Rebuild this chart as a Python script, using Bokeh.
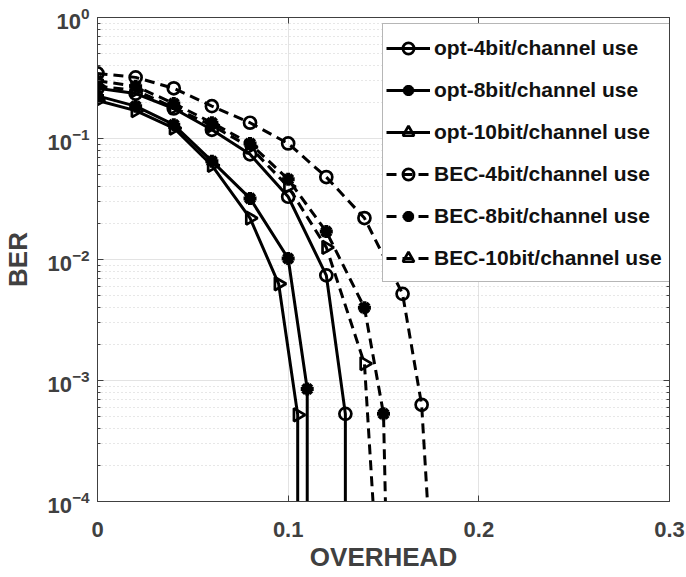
import math
from bokeh.plotting import figure
from bokeh.models import FixedTicker, LogAxis, LinearAxis, Legend, LegendItem, CustomJSTickFormatter
from bokeh.embed import file_html
from bokeh.resources import INLINE

# ---- data ----
x_opt4 = [0.0, 0.02, 0.04, 0.06, 0.08, 0.10, 0.12, 0.13, 0.13]
ber_opt4 = [0.26, 0.235, 0.177, 0.118, 0.074, 0.033, 0.0074, 5.3e-4, 1e-6]

x_opt8 = [0.0, 0.02, 0.04, 0.06, 0.08, 0.10, 0.11, 0.11]
ber_opt8 = [0.225, 0.185, 0.13, 0.065, 0.032, 0.0102, 8.5e-4, 1e-6]

x_opt10 = [0.0, 0.02, 0.04, 0.06, 0.08, 0.095, 0.105, 0.105]
ber_opt10 = [0.206, 0.17, 0.122, 0.060, 0.022, 0.0063, 5.2e-4, 1e-6]

x_bec4 = [0.0, 0.02, 0.04, 0.06, 0.08, 0.10, 0.12, 0.14, 0.16, 0.17, 0.18]
ber_bec4 = [0.345, 0.32, 0.26, 0.185, 0.135, 0.091, 0.048, 0.022, 0.0052, 6.3e-4, 1.5e-6]

x_bec8 = [0.0, 0.02, 0.04, 0.06, 0.08, 0.10, 0.12, 0.14, 0.15, 0.16]
ber_bec8 = [0.30, 0.27, 0.195, 0.135, 0.091, 0.046, 0.017, 0.0040, 5.3e-4, 3e-11]

x_bec10 = [0.0, 0.02, 0.04, 0.06, 0.08, 0.10, 0.12, 0.14, 0.15]
ber_bec10 = [0.27, 0.25, 0.18, 0.128, 0.085, 0.040, 0.0126, 0.00138, 4e-6]

labels = ["opt-4bit/channel use", "opt-8bit/channel use", "opt-10bit/channel use",
          "BEC-4bit/channel use", "BEC-8bit/channel use", "BEC-10bit/channel use"]

x_ticks = [0.0, 0.1, 0.2, 0.3]
y_ticks = [1e-4, 1e-3, 1e-2, 1e-1, 1.0]
y_minor = [m * d for d in [1e-4, 1e-3, 1e-2, 1e-1] for m in range(2, 10)]

FONT = "Liberation Sans"
AXC = "#404040"

p = figure(width=686, height=577, x_range=(0, 0.3), y_range=(1e-4, 1),
           y_axis_type="log", output_backend="svg", toolbar_location=None,
           min_border_left=97, min_border_top=17, min_border_right=17, min_border_bottom=76)
p.background_fill_color = "white"
p.outline_line_color = AXC

xt = FixedTicker(ticks=x_ticks)
yt = FixedTicker(ticks=y_ticks, minor_ticks=y_minor)

xa = p.xaxis[0]
xa.ticker = xt
xa.major_label_overrides = {0: "0", 0.1: "0.1", 0.2: "0.2", 0.3: "0.3"}
ya = p.yaxis[0]
ya.ticker = yt

for ax in (xa, ya):
    ax.axis_line_color = AXC
    ax.major_tick_line_color = AXC
    ax.minor_tick_line_color = AXC
    ax.major_tick_in = 6
    ax.major_tick_out = 0
    ax.minor_tick_in = 3
    ax.minor_tick_out = 0
    ax.major_label_text_font = FONT
    ax.major_label_text_font_style = "bold"
    ax.major_label_text_font_size = "22px"
    ax.major_label_text_color = AXC
    ax.axis_label_text_font = FONT
    ax.axis_label_text_font_style = "bold"
    ax.axis_label_text_font_size = "26px"
    ax.axis_label_text_color = AXC
xa.minor_tick_in = 0
xa.axis_label = "OVERHEAD"
ya.axis_label = "BER"
xa.major_label_standoff = 20
xa.axis_label_standoff = 2
ya.major_label_standoff = 8
ya.axis_label_standoff = 11

top = LinearAxis(ticker=xt, formatter=CustomJSTickFormatter(code="return ''"), major_label_standoff=0,
                 major_tick_in=6, major_tick_out=0, minor_tick_in=0, minor_tick_out=0,
                 axis_line_color=AXC, major_tick_line_color=AXC)
p.add_layout(top, "above")
right = LogAxis(ticker=yt, formatter=CustomJSTickFormatter(code="return ''"), major_label_standoff=0,
                major_tick_in=6, major_tick_out=0, minor_tick_in=3, minor_tick_out=0,
                axis_line_color=AXC, major_tick_line_color=AXC, minor_tick_line_color=AXC)
p.add_layout(right, "right")

p.xgrid.ticker = xt
p.ygrid.ticker = yt
p.xgrid.grid_line_color = "#e3e3e3"
p.ygrid.grid_line_color = "#e3e3e3"
p.ygrid.minor_grid_line_color = "#cfcfcf"
p.ygrid.minor_grid_line_dash = "1 3"

series = [
    (x_opt4, ber_opt4, "solid", "circle"),
    (x_opt8, ber_opt8, "solid", "asterisk"),
    (x_opt10, ber_opt10, "solid", "triangle"),
    (x_bec4, ber_bec4, "10 6", "circle"),
    (x_bec8, ber_bec8, "10 6", "asterisk"),
    (x_bec10, ber_bec10, "10 6", "triangle"),
]

items = []
for (xs, ys, dash, mk), lab in zip(series, labels):
    r = p.line(xs, ys, line_color="black", line_width=3, line_dash=dash)
    kw = dict(marker=mk, line_color="black", fill_color=None)
    if mk == "circle":
        kw.update(size=12, line_width=2.7)
    elif mk == "asterisk":
        kw.update(size=13, line_width=4)
    else:
        kw.update(size=13, line_width=2.7, angle=-math.pi / 2)
    m = p.scatter(xs, ys, **kw)
    items.append(LegendItem(label=lab, renderers=[r, m]))

legend = Legend(items=items, location=(285, 219), orientation="vertical",
                label_text_font=FONT, label_text_font_style="bold",
                label_text_font_size="21px", label_text_color="#111111",
                glyph_width=44, glyph_height=28, label_height=41, label_width=233,
                label_standoff=4, spacing=1, padding=3, margin=0,
                border_line_color="#6e6e6e", border_line_width=1,
                background_fill_color="white", background_fill_alpha=1.0)
p.add_layout(legend)

open("out.html", "w").write(file_html(p, INLINE))
